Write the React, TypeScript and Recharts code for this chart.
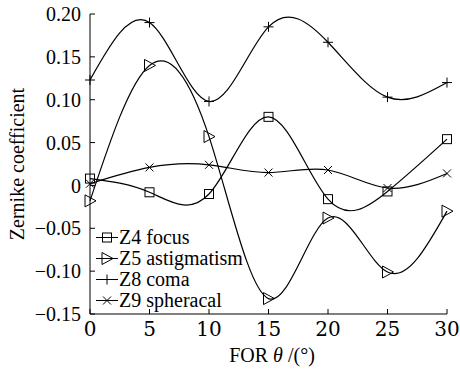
import React from 'react';
import { LineChart, Line, XAxis, YAxis, Legend } from 'recharts';

const xValues = [0, 5, 10, 15, 20, 25, 30];
const z4Focus = [0.008, -0.008, -0.01, 0.08, -0.016, -0.007, 0.054];
const z5Astig = [-0.018, 0.14, 0.057, -0.132, -0.038, -0.101, -0.03];
const z8Coma = [0.123, 0.19, 0.098, 0.185, 0.167, 0.103, 0.12];
const z9Spher = [0.002, 0.021, 0.024, 0.015, 0.018, -0.003, 0.014];
const xTicks = [0, 5, 10, 15, 20, 25, 30];
const yTicks = [-0.15, -0.1, -0.05, 0, 0.05, 0.1, 0.15, 0.2];
const seriesNames = ['Z4 focus', 'Z5 astigmatism', 'Z8 coma', 'Z9 spheracal'];

const data = xValues.map((x, i) => ({
  x,
  z4: z4Focus[i],
  z5: z5Astig[i],
  z8: z8Coma[i],
  z9: z9Spher[i],
}));

const F_Y = 'Liberation Serif';
const F_X = 'DejaVu Serif';
const F_LEG = 'Times New Roman';
const F_LAB = 'serif';

type Kind = 'square' | 'tri' | 'plus' | 'cross';

function marker(kind: Kind, cx: number, cy: number, key?: string | number) {
  const common = { stroke: '#000', strokeWidth: 1, fill: 'none' };
  if (kind === 'square')
    return <rect key={key} x={cx - 4.5} y={cy - 4.5} width={9} height={9} {...common} />;
  if (kind === 'tri')
    return (
      <polygon
        key={key}
        points={`${cx - 5},${cy - 6} ${cx - 5},${cy + 6} ${cx + 6},${cy}`}
        {...common}
      />
    );
  if (kind === 'plus')
    return (
      <path key={key} d={`M${cx - 5},${cy}H${cx + 5}M${cx},${cy - 5}V${cy + 5}`} {...common} />
    );
  return (
    <path
      key={key}
      d={`M${cx - 4},${cy - 4}L${cx + 4},${cy + 4}M${cx - 4},${cy + 4}L${cx + 4},${cy - 4}`}
      {...common}
    />
  );
}

const makeDot = (kind: Kind) => (props: any) => {
  const { cx, cy, index } = props;
  if (cx == null || cy == null) return <g key={`n${index}`} />;
  return marker(kind, cx, cy, `${kind}${index}`);
};

const kinds: Kind[] = ['square', 'tri', 'plus', 'cross'];

const LegendContent = () => (
  <div style={{ fontFamily: F_LEG, fontSize: 20, lineHeight: '21px', color: '#000' }}>
    {seriesNames.map((name, i) => (
      <div key={name} style={{ display: 'flex', alignItems: 'center', height: 21 }}>
        <svg width={23} height={21} style={{ display: 'block' }}>
          <line x1={0} y1={10.5} x2={22} y2={10.5} stroke="#000" strokeWidth={1} />
          {marker(kinds[i], 11, 10.5)}
        </svg>
        <span style={{ whiteSpace: 'nowrap' }}>{name}</span>
      </div>
    ))}
  </div>
);

const fmtY = (v: number) => {
  if (Math.abs(v) < 1e-9) return '0';
  const s = Math.abs(v).toFixed(2);
  return v < 0 ? `\u2212${s}` : s;
};

export default function App() {
  return (
    <div style={{ position: 'absolute', left: 0, top: 0, width: 460, height: 370, background: '#fff' }}>
      <LineChart
        width={460}
        height={370}
        data={data}
        margin={{ top: 14, right: 13, bottom: 26, left: 30 }}
      >
        <XAxis
          dataKey="x"
          type="number"
          domain={[0, 30]}
          ticks={xTicks}
          height={30}
          stroke="#000"
          tickSize={-5}
          tickMargin={13}
          tick={{ fontFamily: F_X, fontSize: 20, fill: '#000' }}
          axisLine={{ stroke: '#000' }}
          tickLine={{ stroke: '#000' }}
        />
        <XAxis
          xAxisId="top"
          dataKey="x"
          type="number"
          orientation="top"
          domain={[0, 30]}
          ticks={xTicks}
          height={0}
          tickSize={-5}
          tick={false}
          axisLine={{ stroke: '#000' }}
          tickLine={{ stroke: '#000' }}
        />
        <YAxis
          type="number"
          domain={[-0.15, 0.2]}
          ticks={yTicks}
          width={60}
          tickSize={-5}
          tickMargin={14}
          tickFormatter={fmtY}
          tick={{ fontFamily: F_Y, fontSize: 20, fill: '#000' }}
          axisLine={{ stroke: '#000' }}
          tickLine={{ stroke: '#000' }}
        />
        <YAxis
          yAxisId="right"
          type="number"
          orientation="right"
          domain={[-0.15, 0.2]}
          ticks={yTicks}
          width={0}
          tickSize={-5}
          tick={false}
          axisLine={{ stroke: '#000' }}
          tickLine={{ stroke: '#000' }}
        />
        <Legend
          layout="vertical"
          align="center"
          verticalAlign="middle"
          content={<LegendContent />}
          wrapperStyle={{ position: 'absolute', left: 96, top: 226.5, width: 'auto' }}
        />
        <Line dataKey="z4" name={seriesNames[0]} type="natural" stroke="#000" strokeWidth={1.2} dot={makeDot('square')} activeDot={false} isAnimationActive={false} />
        <Line dataKey="z5" name={seriesNames[1]} type="natural" stroke="#000" strokeWidth={1.2} dot={makeDot('tri')} activeDot={false} isAnimationActive={false} />
        <Line dataKey="z8" name={seriesNames[2]} type="natural" stroke="#000" strokeWidth={1.2} dot={makeDot('plus')} activeDot={false} isAnimationActive={false} />
        <Line dataKey="z9" name={seriesNames[3]} type="natural" stroke="#000" strokeWidth={1.2} dot={makeDot('cross')} activeDot={false} isAnimationActive={false} />
        <text
          x={17}
          y={164}
          transform="rotate(-90 17 164)"
          textAnchor="middle"
          dominantBaseline="central"
          fontFamily={F_LAB}
          fontSize={20}
          fill="#000"
        >
          Zernike coefficient
        </text>
        <text
          x={272}
          y={355}
          textAnchor="middle"
          dominantBaseline="central"
          fontFamily={F_LAB}
          fontSize={20}
          fill="#000"
        >
          FOR <tspan fontStyle="italic">θ</tspan> /(°)
        </text>
      </LineChart>
    </div>
  );
}
